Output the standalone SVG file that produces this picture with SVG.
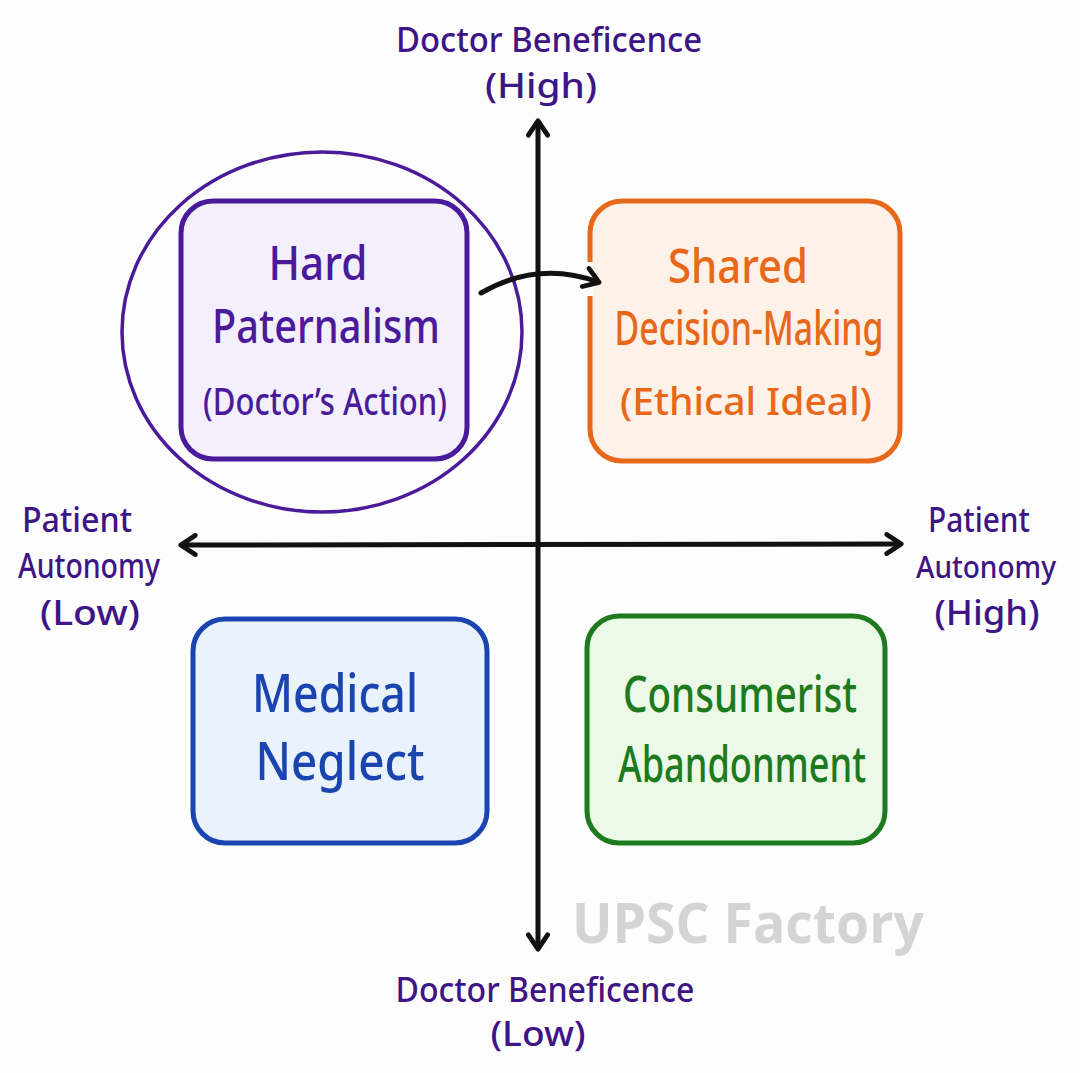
<svg xmlns="http://www.w3.org/2000/svg" width="1080" height="1073" viewBox="0 0 1080 1073">
<defs>
<marker id="chev" viewBox="0 0 20 20" refX="14" refY="10" markerWidth="24" markerHeight="24" markerUnits="userSpaceOnUse" orient="auto-start-reverse">
<path d="M3,2 L15,10 L3,18" fill="none" stroke="#111" stroke-width="4" stroke-linecap="round" stroke-linejoin="round"/>
</marker>
</defs>
<style>
.t{font-family:"Noto Sans","DejaVu Sans",sans-serif;text-anchor:middle;font-weight:500}
.ax{fill:#3d1585;font-size:35px}
.box{stroke-width:5}
.axis{stroke:#111;stroke-width:5;fill:none;stroke-linecap:round}
</style>
<rect width="1080" height="1073" fill="#fdfdfd"/>
<g id="hard-paternalism">
<ellipse cx="322" cy="332" rx="200" ry="180" fill="none" stroke="#4a1a9a" stroke-width="3.5"/>
<rect class="box" x="181" y="201" width="286" height="258" rx="32" fill="#f3effb" stroke="#4a1a9a"/>
<text class="t" x="318" y="280" font-size="48" fill="#4a1a9a" textLength="99" lengthAdjust="spacingAndGlyphs">Hard</text>
<text class="t" x="326" y="343" font-size="48" fill="#4a1a9a" textLength="228" lengthAdjust="spacingAndGlyphs">Paternalism</text>
<text class="t" x="325" y="415" font-size="38" fill="#4a1a9a" textLength="244" lengthAdjust="spacingAndGlyphs">(Doctor’s Action)</text>
</g>
<g id="shared-decision-making">
<rect class="box" x="590" y="201" width="310" height="260" rx="32" fill="#fdf1e8" stroke="#e8681a"/>
<text class="t" x="738" y="283" font-size="48" fill="#e8681a" textLength="140" lengthAdjust="spacingAndGlyphs">Shared</text>
<text class="t" x="749" y="345" font-size="48" fill="#e8681a" textLength="269" lengthAdjust="spacingAndGlyphs">Decision-Making</text>
<text class="t" x="746" y="415" font-size="38" fill="#e8681a" textLength="252" lengthAdjust="spacingAndGlyphs">(Ethical Ideal)</text>
</g>
<g id="medical-neglect">
<rect class="box" x="193" y="619" width="294" height="224" rx="32" fill="#eaf2fc" stroke="#1a44b0"/>
<text class="t" x="335" y="712" font-size="52" fill="#1a44b0" textLength="166" lengthAdjust="spacingAndGlyphs">Medical</text>
<text class="t" x="340" y="780" font-size="52" fill="#1a44b0" textLength="169" lengthAdjust="spacingAndGlyphs">Neglect</text>
</g>
<g id="consumerist-abandonment">
<rect class="box" x="587" y="616" width="298" height="227" rx="32" fill="#ecf9e6" stroke="#1e7a1e"/>
<text class="t" x="740" y="712" font-size="51" fill="#1e7a1e" textLength="234" lengthAdjust="spacingAndGlyphs">Consumerist</text>
<text class="t" x="742" y="782" font-size="51" fill="#1e7a1e" textLength="248" lengthAdjust="spacingAndGlyphs">Abandonment</text>
</g>
<g id="label-top">
<text class="t ax" x="549" y="52" textLength="306" lengthAdjust="spacingAndGlyphs">Doctor Beneficence</text>
<text class="t ax" x="541" y="98" textLength="112" lengthAdjust="spacingAndGlyphs">(High)</text>
</g>
<g id="label-bottom">
<text class="t ax" x="545" y="1002" textLength="299" lengthAdjust="spacingAndGlyphs">Doctor Beneficence</text>
<text class="t ax" x="538" y="1046" textLength="95" lengthAdjust="spacingAndGlyphs">(Low)</text>
</g>
<g id="label-left">
<text class="t ax" x="77" y="532" textLength="110" lengthAdjust="spacingAndGlyphs">Patient</text>
<text class="t ax" x="89" y="578" textLength="142" lengthAdjust="spacingAndGlyphs">Autonomy</text>
<text class="t ax" x="90" y="625" textLength="100" lengthAdjust="spacingAndGlyphs">(Low)</text>
</g>
<g id="label-right">
<text class="t ax" x="979" y="532" textLength="102" lengthAdjust="spacingAndGlyphs">Patient</text>
<text class="t" x="986" y="578" font-size="30" fill="#3d1585" textLength="140" lengthAdjust="spacingAndGlyphs">Autonomy</text>
<text class="t ax" x="987" y="625" textLength="105" lengthAdjust="spacingAndGlyphs">(High)</text>
</g>
<text x="748" y="943" font-family="'Open Sans','Noto Sans',sans-serif" font-weight="bold" font-size="56" fill="#d4d4d4" text-anchor="middle" textLength="352" lengthAdjust="spacingAndGlyphs">UPSC Factory</text>
<g id="connectors">
<path class="axis" d="M538,122 L538,948" marker-start="url(#chev)" marker-end="url(#chev)"/>
<path class="axis" d="M182,545 L900,544" marker-start="url(#chev)" marker-end="url(#chev)"/>
<path d="M590,262 L590,296" stroke="#fdfdfd" stroke-width="7"/>
<path class="axis" d="M481,293 Q538,260 598,282" marker-end="url(#chev)"/>
</g>
</svg>
